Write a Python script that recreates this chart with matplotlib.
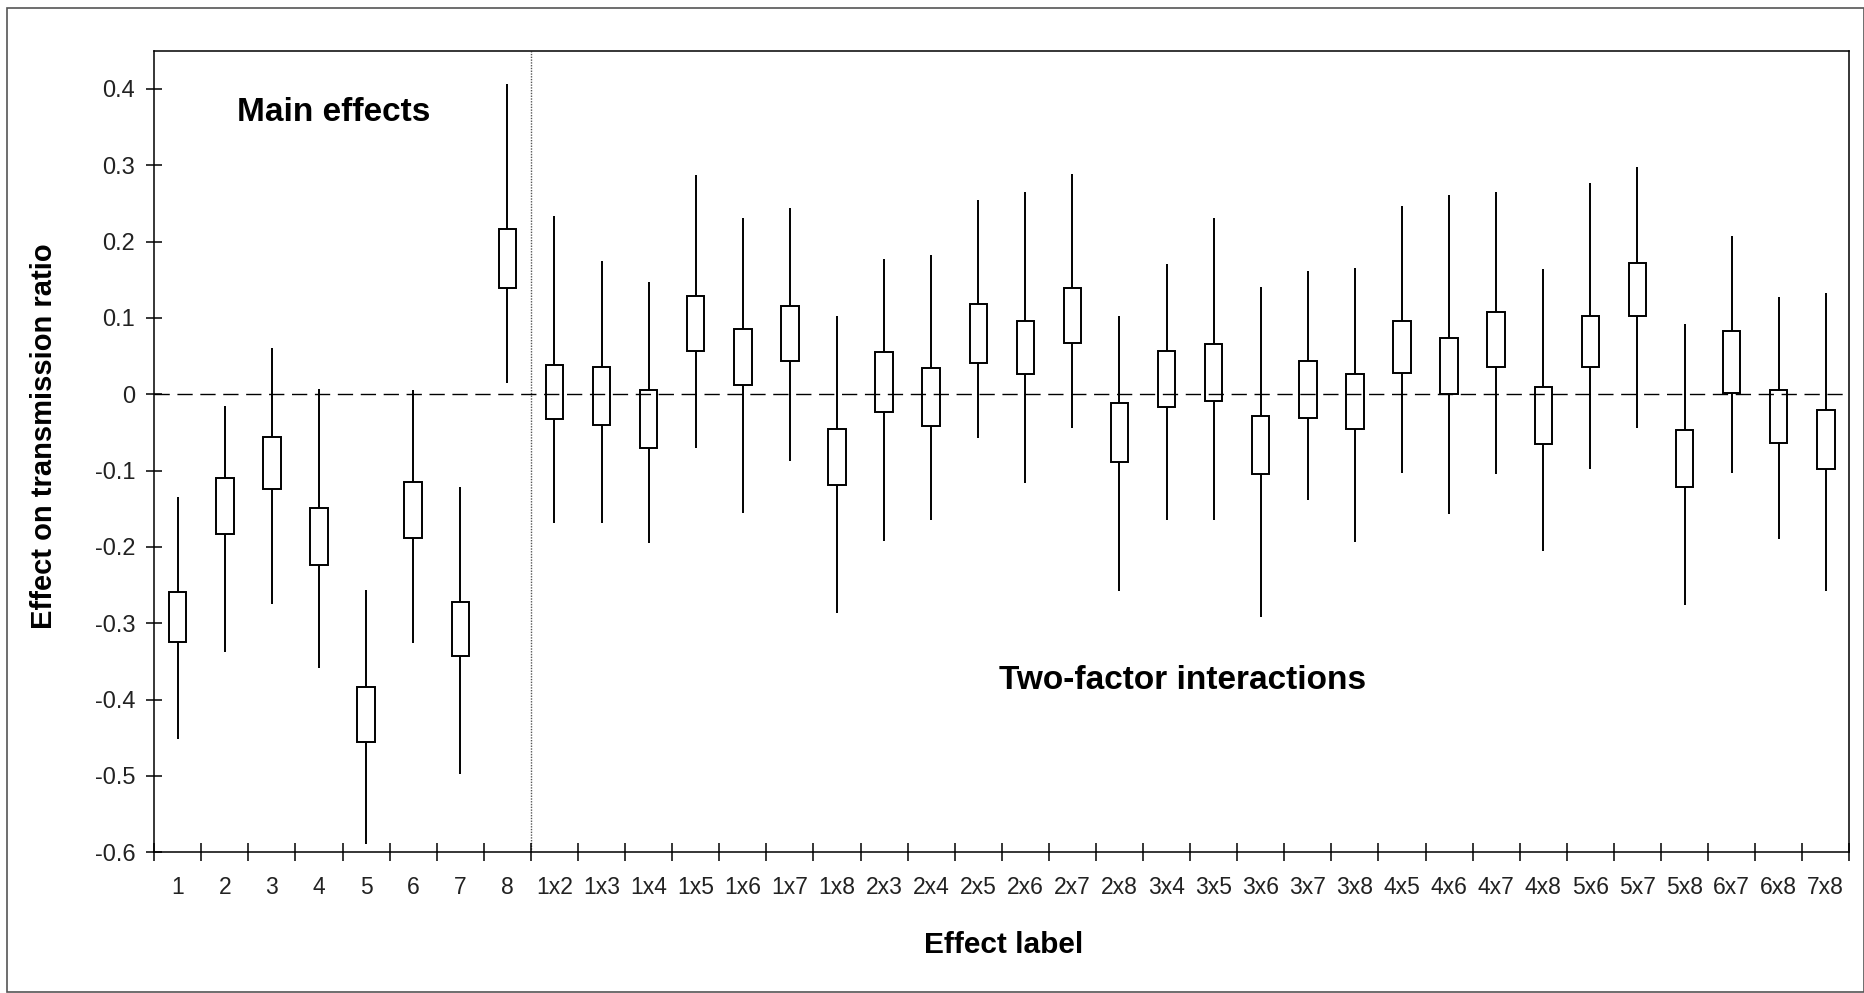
import numpy as np
import matplotlib.pyplot as plt
from matplotlib.patches import Rectangle

plt.rcParams['font.family'] = ['Liberation Sans', 'DejaVu Sans']

# effect labels: 8 main effects, then the 28 two-factor interactions
labels = ["1", "2", "3", "4", "5", "6", "7", "8",
          "1x2", "1x3", "1x4", "1x5", "1x6", "1x7", "1x8",
          "2x3", "2x4", "2x5", "2x6", "2x7", "2x8",
          "3x4", "3x5", "3x6", "3x7", "3x8",
          "4x5", "4x6", "4x7", "4x8",
          "5x6", "5x7", "5x8",
          "6x7", "6x8", "7x8"]

# whisker ends and box ends per effect
whisker_hi = [-0.134, -0.016, 0.061, 0.007, -0.256, 0.005, -0.122, 0.406,
              0.233, 0.174, 0.147, 0.287, 0.231, 0.244, 0.103,
              0.177, 0.183, 0.255, 0.265, 0.289, 0.103,
              0.171, 0.231, 0.141, 0.162, 0.166,
              0.247, 0.261, 0.265, 0.164,
              0.277, 0.298, 0.092,
              0.207, 0.127, 0.132]
box_hi = [-0.259, -0.110, -0.056, -0.149, -0.384, -0.115, -0.272, 0.217,
          0.038, 0.036, 0.006, 0.129, 0.086, 0.116, -0.046,
          0.056, 0.034, 0.118, 0.096, 0.139, -0.011,
          0.057, 0.066, -0.029, 0.044, 0.027,
          0.096, 0.074, 0.108, 0.010,
          0.103, 0.172, -0.047,
          0.083, 0.006, -0.020]
box_lo = [-0.324, -0.183, -0.124, -0.224, -0.455, -0.188, -0.343, 0.139,
          -0.032, -0.040, -0.070, 0.057, 0.012, 0.044, -0.119,
          -0.023, -0.041, 0.041, 0.026, 0.067, -0.089,
          -0.017, -0.009, -0.104, -0.031, -0.046,
          0.028, 0.000, 0.036, -0.065,
          0.036, 0.103, -0.121,
          0.002, -0.064, -0.098]
whisker_lo = [-0.451, -0.337, -0.275, -0.359, -0.589, -0.326, -0.498, 0.015,
              -0.168, -0.169, -0.195, -0.071, -0.155, -0.088, -0.286,
              -0.192, -0.165, -0.057, -0.116, -0.044, -0.258,
              -0.165, -0.165, -0.292, -0.138, -0.194,
              -0.103, -0.157, -0.105, -0.205,
              -0.098, -0.044, -0.276,
              -0.103, -0.189, -0.258]

yticks = [0.4, 0.3, 0.2, 0.1, 0.0, -0.1, -0.2, -0.3, -0.4, -0.5, -0.6]

fig = plt.figure(figsize=(18.65, 9.93), dpi=100)
ax = fig.add_axes([0.0827, 0.1417, 0.9089, 0.8072])

n = len(labels)
x = np.arange(n) + 0.5
lo = np.array(box_lo)
hi = np.array(box_hi)

ax.vlines(x, whisker_lo, whisker_hi, color='black', lw=1.4, zorder=2)
ax.bar(x, hi - lo, bottom=lo, width=0.37, facecolor='white',
       edgecolor='black', linewidth=1.4, zorder=3)

# zero line on top of the boxes
ax.axhline(0, color='black', lw=1.0, dashes=(11, 5.5), zorder=4)
# separator between main effects and interactions
ax.axvline(8, color='#555555', lw=1.0, linestyle=(0, (1, 1)), zorder=1)

ax.set_xlim(0, n)
ax.set_ylim(-0.6, 0.45)

ax.set_xticks(np.arange(n + 1))
ax.set_xticklabels([])
ax.set_xticks(x, minor=True)
ax.set_xticklabels(labels, minor=True, fontsize=16.5, color='#222222')
ax.tick_params(axis='x', which='major', direction='inout', length=13, width=1.1)
ax.tick_params(axis='x', which='minor', length=0, pad=17)

ax.set_yticks(yticks)
ax.set_yticklabels([f"{v:g}" for v in yticks], fontsize=17, color='#222222')
ax.tick_params(axis='y', direction='inout', length=11.5, width=1.1, pad=8)

for s in ax.spines.values():
    s.set_linewidth(1.1)

ax.text(3.81, 0.3585, "Main effects", ha='center', va='baseline',
        fontsize=24, fontweight='bold')
ax.text(21.83, -0.3866, "Two-factor interactions", ha='center', va='baseline',
        fontsize=24, fontweight='bold')

fig.text(0.5382, 0.040, "Effect label", ha='center', va='baseline',
         fontsize=21.5, fontweight='bold')
fig.text(0.0236, 0.561, "Effect on transmission ratio", rotation=90,
         ha='center', va='center', fontsize=21, fontweight='bold')

# thin frame around the whole chart
fig.patches.append(Rectangle((7 / 1865, 1 / 993), 1857 / 1865, 984 / 993,
                             transform=fig.transFigure, fill=False,
                             edgecolor='#555555', lw=1.2))

fig.savefig("out.png", dpi=100)
